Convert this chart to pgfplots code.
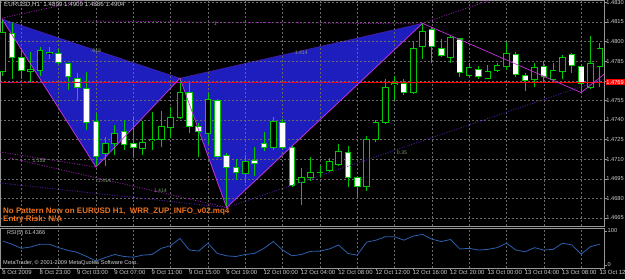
\documentclass[border=0pt]{standalone}
\usepackage{fontspec}
\setmainfont{Liberation Sans}
\usepackage{pgfplots}
\pgfplotsset{compat=1.18}
\usepackage{pgfplotstable}

\definecolor{cgreen}{RGB}{0,200,0}
\definecolor{gridc}{RGB}{105,105,105}
\definecolor{framec}{RGB}{150,150,150}
\definecolor{labc}{RGB}{205,205,205}
\definecolor{patblue}{RGB}{30,30,190}
\definecolor{zig}{RGB}{200,50,220}
\definecolor{dotc}{RGB}{150,30,170}
\definecolor{dotb}{RGB}{80,30,160}
\definecolor{fibc}{RGB}{125,150,110}
\definecolor{orangec}{RGB}{235,115,30}
\definecolor{rsic}{RGB}{45,95,175}

\newcommand\lab{\fontsize{6.2}{7}\selectfont}
\newcommand\tlab{\fontsize{6.0}{7}\selectfont}
\newcommand\plab{\fontsize{5.7}{6.5}\selectfont}
\newcommand\tinylab{\fontsize{5.2}{6}\selectfont}

\pgfplotstableread{
i o h l c
0 1.4777 1.4817 1.4774 1.4807
1 1.4806 1.4814 1.4771 1.4788
2 1.4788 1.4794 1.4771 1.4778
3 1.4777 1.4792 1.4769 1.4779
4 1.4778 1.4796 1.4774 1.4793
5 1.4791 1.4796 1.4787 1.4792
6 1.4791 1.4794 1.4783 1.4784
7 1.4783 1.4784 1.4763 1.4773
8 1.4772 1.4776 1.4755 1.4765
9 1.4764 1.4777 1.4732 1.4738
10 1.4739 1.4745 1.4704 1.4712
11 1.4714 1.4727 1.4705 1.4722
12 1.4722 1.4736 1.4713 1.4730
13 1.4731 1.4740 1.4717 1.4721
14 1.4722 1.4742 1.4712 1.4719
15 1.4718 1.4739 1.4713 1.4723
16 1.4724 1.4746 1.4717 1.4725
17 1.4725 1.4747 1.4719 1.4735
18 1.4734 1.4750 1.4726 1.4742
19 1.4742 1.4772 1.4741 1.4761
20 1.4761 1.4769 1.4730 1.4735
21 1.4735 1.4738 1.4712 1.4731
22 1.4730 1.4761 1.4722 1.4756
23 1.4755 1.4756 1.4711 1.4712
24 1.4713 1.4715 1.4673 1.4704
25 1.4704 1.4710 1.4694 1.4700
26 1.4699 1.4713 1.4692 1.4708
27 1.4709 1.4719 1.4697 1.4707
28 1.4722 1.4731 1.4716 1.4719
29 1.4719 1.4742 1.4717 1.4739
30 1.4738 1.4741 1.4718 1.4719
31 1.4719 1.4720 1.4689 1.4690
32 1.4692 1.4703 1.4675 1.4696
33 1.4696 1.4712 1.4693 1.4700
34 1.4700 1.4705 1.4696 1.4700
35 1.4701 1.4711 1.4700 1.4708
36 1.4706 1.4722 1.4705 1.4716
37 1.4715 1.4720 1.4689 1.4696
38 1.4696 1.4697 1.4680 1.4689
39 1.4689 1.4728 1.4686 1.4725
40 1.4725 1.4740 1.4723 1.4738
41 1.4738 1.4771 1.4737 1.4765
42 1.4767 1.4774 1.4755 1.4768
43 1.4768 1.4771 1.4759 1.4761
44 1.4761 1.4800 1.4760 1.4795
45 1.4796 1.4814 1.4787 1.4808
46 1.4809 1.4811 1.4784 1.4796
47 1.4795 1.4802 1.4788 1.4789
48 1.4788 1.4804 1.4784 1.4803
49 1.4802 1.4803 1.4773 1.4776
50 1.4774 1.4784 1.4772 1.4780
51 1.4779 1.4781 1.4771 1.4773
52 1.4772 1.4782 1.4771 1.4777
53 1.4778 1.4784 1.4777 1.4782
54 1.4781 1.4800 1.4778 1.4791
55 1.4790 1.4792 1.4773 1.4775
56 1.4774 1.4776 1.4762 1.4770
57 1.4771 1.4784 1.4765 1.4780
58 1.4781 1.4785 1.4769 1.4773
59 1.4771 1.4784 1.4768 1.4778
60 1.4777 1.4790 1.4771 1.4788
61 1.4790 1.4791 1.4776 1.4782
62 1.4781 1.4782 1.4761 1.4768
63 1.4765 1.4804 1.4764 1.4783
64 1.4781 1.4799 1.4765 1.4795
}\candles

\pgfplotstableread{
i r
0 70.6
1 61
2 49
3 53
4 61
5 61
6 51
7 43
8 37
9 25
10 12
11 22
12 31
13 25
14 23
15 29
16 31
17 49
18 57
19 78
20 44
21 41
22 64
23 34
24 27
25 25
26 31
27 34
28 49
29 69
30 44
31 27
32 31
33 40
34 41
35 47
36 59
37 34
38 29
39 67
40 73
41 83
42 83
43 73
44 85
45 90
46 76
47 69
48 75
49 47
50 49
51 44
52 46
53 51
54 64
55 44
56 39
57 51
58 44
59 46
60 64
61 59
62 32
63 54
64 61.4
}\rsi

\pgfplotsset{mainax/.style={
  scale only axis, width=604pt, height=226pt,
  at={(0pt,53pt)}, anchor=south west,
  xmin=-0.29, xmax=64.45, ymin=1.465888, ymax=1.483184,
  clip=false,
},
candle/.style n args={2}{forget plot, color=#1, only marks, mark=none, mark size=0pt,
  unbounded coords=discard,
  error bars/.cd, y dir=plus, y explicit, error mark=none,
  error mark options={mark size=0pt, draw=none, fill=none},
  error bar style={draw=#1, solid, line width=#2}},
}

\begin{document}
\begin{tikzpicture}[x=1pt,y=1pt]
\useasboundingbox (0,0) rectangle (625,279);
\clip (0,0) rectangle (625,279);
\fill[black] (0,0) rectangle (625,279);

% pattern fills (behind grid)
\begin{axis}[mainax, hide axis]
\addplot[fill=patblue, draw=dotb, line width=0.5pt] coordinates {(-0.075,1.48173) (10,1.4704) (19,1.4772)} -- cycle;
\addplot[fill=patblue, draw=dotb, line width=0.5pt] coordinates {(19,1.4772) (24,1.4673) (45,1.4814)} -- cycle;
\end{axis}

% main price panel
\begin{axis}[mainax,
  axis line style={framec, line width=0.6pt},
  xtick=\empty,
  extra x ticks={2,6,...,62}, extra x tick labels={},
  extra x tick style={grid=major, major tick length=0pt},
  ytick={1.4665,1.468,1.4695,1.471,1.4725,1.474,1.4755,1.477,1.4785,1.48,1.4815,1.483},
  yticklabels={1.4665,1.4680,1.4695,1.4710,1.4725,1.4740,1.4755,,1.4785,1.4800,1.4815,1.4830},
  ytick pos=right, yticklabel pos=right,
  tick align=outside, major tick length=2.5pt,
  tick style={framec, line width=0.5pt},
  yticklabel style={font=\plab, text=labc, anchor=west, inner sep=0pt, xshift=-0.3pt},
  ymajorgrids,
  grid style={gridc, dash pattern=on 2pt off 2pt, line width=0.5pt},
]
% wicks
\addplot[candle={cgreen}{0.8pt}]
  table[x=i, y=l, y error expr=\thisrow{h}-\thisrow{l}] {\candles};
% body outlines
\addplot[candle={cgreen}{6.6pt}]
  table[x=i, y expr={min(\thisrow{o},\thisrow{c})-0.00004}, y error expr={abs(\thisrow{c}-\thisrow{o})+0.00008}] {\candles};
% bull bodies (black)
\addplot[candle={black}{4.8pt}]
  table[x=i, y expr={(\thisrow{c}-\thisrow{o}>0.00009) ? \thisrow{o}+0.00004 : nan}, y error expr={\thisrow{c}-\thisrow{o}-0.00008}] {\candles};
% bear bodies (white)
\addplot[candle={white}{4.8pt}]
  table[x=i, y expr={(\thisrow{o}-\thisrow{c}>0.00009) ? \thisrow{c}+0.00004 : nan}, y error expr={\thisrow{o}-\thisrow{c}-0.00008}] {\candles};
% dotted projection lines
\addplot[dotc, line width=0.8pt, dash pattern=on 1pt off 1.5pt] coordinates {(8.6,1.48158) (44.94,1.48135)};
\addplot[dotc, line width=0.8pt, dash pattern=on 1pt off 1.5pt] coordinates {(-0.075,1.48180) (8.7,1.48315)};
\addplot[dotc, line width=0.8pt, dash pattern=on 1pt off 1.5pt] coordinates {(45,1.4814) (52.1,1.48314)};
\addplot[dotc, line width=0.8pt, dash pattern=on 1pt off 1.5pt] coordinates {(-0.29,1.47155) (10,1.4704)};
\addplot[dotc, line width=0.8pt, dash pattern=on 1pt off 1.5pt] coordinates {(0.78,1.47109) (24,1.4673)};
\addplot[dotb, line width=0.8pt, dash pattern=on 1pt off 1.5pt] coordinates {(-0.29,1.46918) (24,1.4673)};
\addplot[dotb, line width=0.8pt, dash pattern=on 1pt off 1.5pt] coordinates {(24,1.4673) (64.45,1.47714)};
% current price line
\addplot[red, line width=0.8pt] coordinates {(-0.29,1.4769) (64.45,1.4769)};
\addplot[dotc, line width=0.8pt, dash pattern=on 1pt off 1.5pt] coordinates {(-0.29,1.4769) (38.3,1.4769)};
% zigzag
\addplot[zig, line width=0.7pt] coordinates {(-0.075,1.48173) (10,1.4704) (19,1.4772) (24,1.4673) (45,1.4814) (62,1.4761) (64.45,1.4775)};
% fib labels
\node[font=\tinylab, text=fibc] at (axis cs:10,1.47928) {.618};
\node[font=\tinylab, text=fibc] at (axis cs:32,1.47913) {1.414};
\node[font=\tinylab, text=fibc] at (axis cs:22.8,1.48135) {1};
\node[font=\tinylab, text=fibc] at (axis cs:3.9,1.47086) {1.128};
\node[font=\tinylab, text=fibc] at (axis cs:10.9,1.46933) {1.414};
\node[font=\tinylab, text=fibc] at (axis cs:16.9,1.46857) {1.414};
\node[font=\tinylab, text=fibc] at (axis cs:42.8,1.47147) {0.35};
% price tag
\node[fill=red, text=white, font=\plab, anchor=west, inner sep=0.7pt, xshift=1.5pt] at (axis cs:64.45,1.4769) {1.4769};
% texts
\node[anchor=north west, font=\lab, text=labc, inner sep=0pt] at ([xshift=4pt,yshift=-2pt]rel axis cs:0,1) {EURUSD,H1\ \ 1.4899 1.4909 1.4886 1.4904};
\node[anchor=base west, font=\fontsize{8}{9}\selectfont\bfseries, text=orangec, inner sep=0pt] at ([xshift=3pt]rel axis cs:0,0.0553) {No Pattern Now on EURUSD H1,\ \ WRR\_ZUP\_INFO\_v02.mq4};
\node[anchor=base west, font=\fontsize{8}{9}\selectfont\bfseries, text=orangec, inner sep=0pt] at ([xshift=3pt]rel axis cs:0,0.0177) {Entry Risk: N/A};
\end{axis}

% RSI panel
\begin{axis}[
  scale only axis, width=604pt, height=40pt,
  at={(0pt,11pt)}, anchor=south west,
  xmin=-0.29, xmax=64.45, ymin=-8.8, ymax=108.8,
  clip=false,
  axis line style={framec, line width=0.6pt},
  xtick={0,4,...,64},
  xticklabels={8 Oct 2009, 8 Oct 23:00, 9 Oct 03:00, 9 Oct 07:00, 9 Oct 11:00, 9 Oct 15:00, 9 Oct 19:00, 12 Oct 00:00, 12 Oct 04:00, 12 Oct 08:00, 12 Oct 12:00, 12 Oct 16:00, 12 Oct 20:00, 13 Oct 00:00, 13 Oct 04:00, 13 Oct 08:00, 13 Oct 12:00},
  xtick pos=left,
  xticklabel style={anchor=north west, font=\tlab, text=labc, inner sep=0pt, xshift=-0.5pt},
  extra x ticks={2,6,...,62}, extra x tick labels={},
  extra x tick style={grid=major, major tick length=0pt},
  ytick={0,100}, yticklabels={0,100},
  ytick pos=right, yticklabel pos=right,
  yticklabel style={font=\plab, text=labc, anchor=west, inner sep=0pt, xshift=1pt},
  tick align=outside, major tick length=2.5pt,
  tick style={framec, line width=0.5pt},
  grid style={gridc, dash pattern=on 2pt off 2pt, line width=0.5pt},
]
\addplot[rsic, line width=0.8pt] table[x=i, y=r] {\rsi};
\node[anchor=north west, font=\fontsize{5.6}{6.5}\selectfont, text=labc, inner sep=0pt] at ([xshift=7pt,yshift=-2pt]rel axis cs:0,1) {RSI(5) 61.4366};
\node[anchor=south west, font=\fontsize{5.6}{6.5}\selectfont, text=labc, inner sep=0pt] at ([xshift=3pt,yshift=2pt]rel axis cs:0,0) {MetaTrader, © 2001-2009 MetaQuotes Software Corp.};
\end{axis}
\end{tikzpicture}
\end{document}
